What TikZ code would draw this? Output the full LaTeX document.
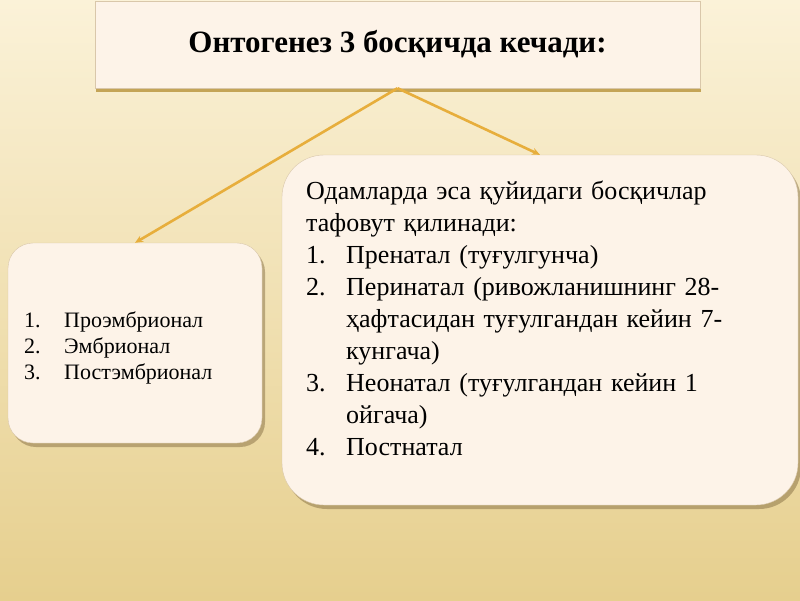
\documentclass[tikz,border=0pt]{standalone}
\usepackage{fontspec}
\setmainfont{Liberation Serif}
\usetikzlibrary{shadows,arrows.meta}
\definecolor{bgtop}{HTML}{FBF2D8}
\definecolor{bgbot}{HTML}{E6CF8E}
\definecolor{boxfill}{HTML}{FDF3E8}
\definecolor{boxline}{HTML}{D9C7AA}
\definecolor{arrowc}{HTML}{E7AE3C}
\definecolor{shadowc}{HTML}{7A6238}
\definecolor{titleshadow}{HTML}{B8923A}
\begin{document}
\begin{tikzpicture}[x=1pt,y=-1pt,
  titlebox/.style={draw=boxline, line width=0.4pt, fill=boxfill, inner sep=0pt,
    drop shadow={shadow xshift=1pt, shadow yshift=-4pt, opacity=0.8, fill=titleshadow}},
  roundbox/.style={draw=boxline, line width=0.4pt, fill=boxfill, inner sep=0pt,
    drop shadow={shadow xshift=3pt, shadow yshift=-4pt, opacity=0.45, fill=shadowc}},
  connector/.style={draw=arrowc, line width=2.6pt, -{Stealth[length=8pt,width=7pt]}},
  listtext/.style={anchor=north west, inner sep=0pt, align=left}
]
\shade[top color=bgtop, bottom color=bgbot] (0,0) rectangle (800,600);
\useasboundingbox (0,0) rectangle (800,600);

\node[titlebox, minimum width=605pt, minimum height=87pt,
      font=\fontsize{31}{36}\selectfont\bfseries] (title) at (397.5,44.5)
      {\raisebox{-3pt}{Онтогенез 3 босқичда кечади:}};

\node[roundbox, rounded corners=25pt, minimum width=254pt, minimum height=200pt] (left) at (135,343) {};
\node[roundbox, rounded corners=42pt, minimum width=516pt, minimum height=350pt] (right) at (540,330) {};

\draw[connector] (title.south) -- (left.north);
\draw[connector] (title.south) -- (right.north);

\node[listtext, text width=236pt, font=\fontsize{22}{26}\selectfont] (lefttext) at (24,308.8)
 {\strut\makebox[40pt][l]{1.}Проэмбрионал\\
  \makebox[40pt][l]{2.}Эмбрионал\\
  \makebox[40pt][l]{3.}Постэмбрионал};

\node[listtext, text width=490pt, font=\fontsize{26}{32}\selectfont] (righttext) at (306,176.5)
 {\strut Одамларда эса қуйидаги босқичлар\\
  тафовут қилинади:\\
  \makebox[40pt][l]{1.}Пренатал (туғулгунча)\\
  \makebox[40pt][l]{2.}Перинатал (ривожланишнинг 28-\\
  \hspace*{40pt}ҳафтасидан туғулгандан кейин 7-\\
  \hspace*{40pt}кунгача)\\
  \makebox[40pt][l]{3.}Неонатал (туғулгандан кейин 1\\
  \hspace*{40pt}ойгача)\\
  \makebox[40pt][l]{4.}Постнатал};
\end{tikzpicture}
\end{document}
